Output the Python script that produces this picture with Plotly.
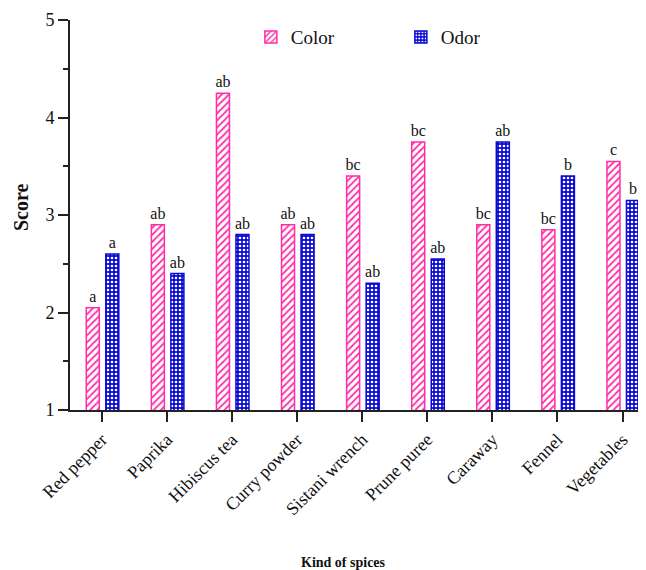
import plotly.graph_objects as go

categories = ["Red pepper", "Paprika", "Hibiscus tea", "Curry powder", "Sistani wrench",
              "Prune puree", "Caraway", "Fennel", "Vegetables"]
color_scores = [2.05, 2.9, 4.25, 2.9, 3.4, 3.75, 2.9, 2.85, 3.55]
odor_scores = [2.6, 2.4, 2.8, 2.8, 2.3, 2.55, 3.75, 3.4, 3.15]
color_letters = ["a", "ab", "ab", "ab", "bc", "bc", "bc", "bc", "c"]
odor_letters = ["a", "ab", "ab", "ab", "ab", "ab", "ab", "b", "b"]

PINK = "#ff2ea6"
BLUE = "#0a0ad0"
SERIF = "Liberation Serif, Times New Roman, serif"
# page body has an 8px default margin, so the figure is sized to fill the rest of the window
W, H = 638, 562
L, R, T, B = 62, 0, 12, 160

fig = go.Figure()
fig.add_trace(go.Bar(
    name="Color", x=categories, y=color_scores,
    width=0.2, offset=-0.24,
    marker=dict(color="white", line=dict(color=PINK, width=1.5),
                pattern=dict(shape="/", fgcolor=PINK, bgcolor="white", size=5, solidity=0.35, fillmode="replace")),
    text=color_letters, textposition="outside", cliponaxis=False, constraintext="none",
    textfont=dict(family=SERIF, size=16, color="#111"),
))
fig.add_trace(go.Bar(
    name="Odor", x=categories, y=odor_scores,
    width=0.2, offset=0.06,
    marker=dict(color=BLUE, line=dict(color=BLUE, width=1.5),
                pattern=dict(shape=".", fgcolor="white", bgcolor=BLUE, size=4, solidity=0.35, fillmode="replace")),
    text=odor_letters, textposition="outside", cliponaxis=False, constraintext="none",
    textfont=dict(family=SERIF, size=16, color="#111"),
))

fig.update_layout(
    width=W, height=H,
    margin=dict(l=L, r=R, t=T, b=B),
    paper_bgcolor="white", plot_bgcolor="white",
    font=dict(family=SERIF, color="#111"),
    barmode="overlay",
    showlegend=True,
    legend=dict(orientation="h", x=0.314, y=1.005, xanchor="left", yanchor="top",
                font=dict(family=SERIF, size=19, color="#111"),
                itemwidth=30, tracegroupgap=0, entrywidth=105, entrywidthmode="pixels"),
    xaxis=dict(range=[-0.49, 8.36], showline=True, linecolor="#222", linewidth=2,
               ticks="outside", ticklen=10, tickwidth=2, tickcolor="#222",
               tickangle=-45, tickfont=dict(family=SERIF, size=18, color="#111"),
               showgrid=False, zeroline=False, automargin=False),
    yaxis=dict(range=[1, 5], showline=True, linecolor="#222", linewidth=2,
               ticks="outside", ticklen=10, tickwidth=2, tickcolor="#222",
               tickvals=[1, 2, 3, 4, 5], tickfont=dict(family=SERIF, size=18, color="#111"),
               minor=dict(tickvals=[1.5, 2.5, 3.5, 4.5], ticks="outside", ticklen=5, tickwidth=2, tickcolor="#222"),
               showgrid=False, zeroline=False, automargin=False),
    annotations=[
        dict(text="<b>Score</b>", x=(13 - L) / (W - L - R), y=(H - B - 199) / (H - T - B),
             xref="paper", yref="paper", textangle=-90, showarrow=False,
             xanchor="center", yanchor="middle",
             font=dict(family=SERIF, size=20, color="#111")),
        dict(text="<b>Kind of spices</b>", x=(335 - L) / (W - L - R), y=(H - B - 554) / (H - T - B),
             xref="paper", yref="paper", showarrow=False,
             xanchor="center", yanchor="middle",
             font=dict(family=SERIF, size=14, color="#111")),
    ],
)

fig.write_html("out.html")
